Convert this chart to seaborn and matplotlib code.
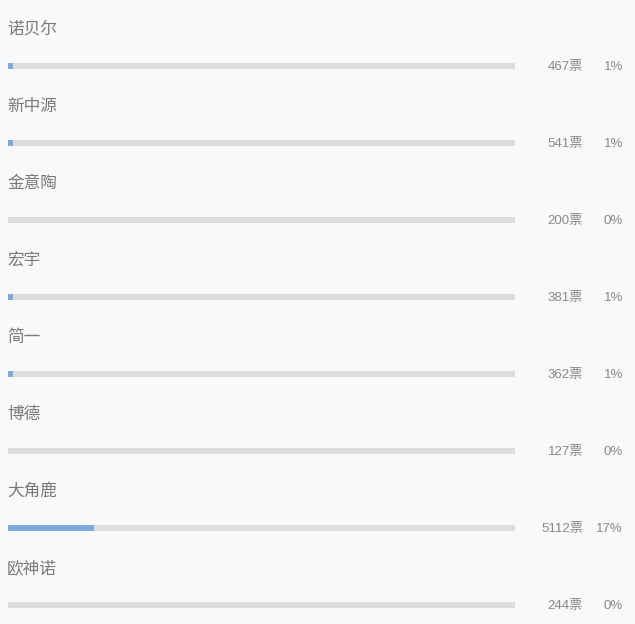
import pandas as pd
import matplotlib
matplotlib.use("Agg")
import matplotlib.pyplot as plt
import seaborn as sns

# --------------------------
# Data
# --------------------------
names = ["诺贝尔", "新中源", "金意陶", "宏宇", "简一", "博德", "大角鹿", "欧神诺"]
votes = [467, 541, 200, 381, 362, 127, 5112, 244]
percents = [1, 1, 0, 1, 1, 0, 17, 0]

df = pd.DataFrame({"name": names, "votes": votes, "pct": percents, "track": [100] * len(names)})

# --------------------------
# Style
# --------------------------
sns.set_theme(style="white")
plt.rcParams["font.family"] = ["Noto Sans CJK SC", "DejaVu Sans"]
num_font = ["Liberation Sans", "Noto Sans CJK SC"]

W, H = 635, 624
bg = "#f9f9f9"
fig = plt.figure(figsize=(W / 100, H / 100), dpi=100, facecolor=bg)
# axes spans the bar track horizontally, full height vertically
ax = fig.add_axes([8 / W, 0, (515 - 8) / W, 1])
ax.set_facecolor(bg)

row_px = 77
first_px = 66
bar_h = 5.5 / row_px

sns.barplot(data=df, x="track", y="name", order=names, color="#dddddd",
            width=bar_h, saturation=1, linewidth=0, ax=ax)
sns.barplot(data=df, x="pct", y="name", order=names, color="#7ea9da",
            width=bar_h, saturation=1, linewidth=0, ax=ax)

ax.set_xlim(0, 100)
ax.set_ylim((H - first_px) / row_px, -first_px / row_px)
ax.axis("off")

# --------------------------
# Labels
# --------------------------
for i, (n, v, p) in enumerate(zip(names, votes, percents)):
    y_px = first_px + row_px * i
    fig.text(7 / W, 1 - (y_px - 32) / H, n, ha="left", va="baseline",
             fontsize=12, color="#7a7a7a")
    y_fig = 1 - (y_px + 4) / H
    fig.text(583 / W, y_fig, f"{v}票", ha="right", va="baseline", fontsize=9.5,
             color="#888888", family=num_font)
    fig.text(623 / W, y_fig, f"{p}%", ha="right", va="baseline", fontsize=9.5,
             color="#888888", family=num_font)

fig.savefig("out.png", dpi=100, facecolor=bg)
